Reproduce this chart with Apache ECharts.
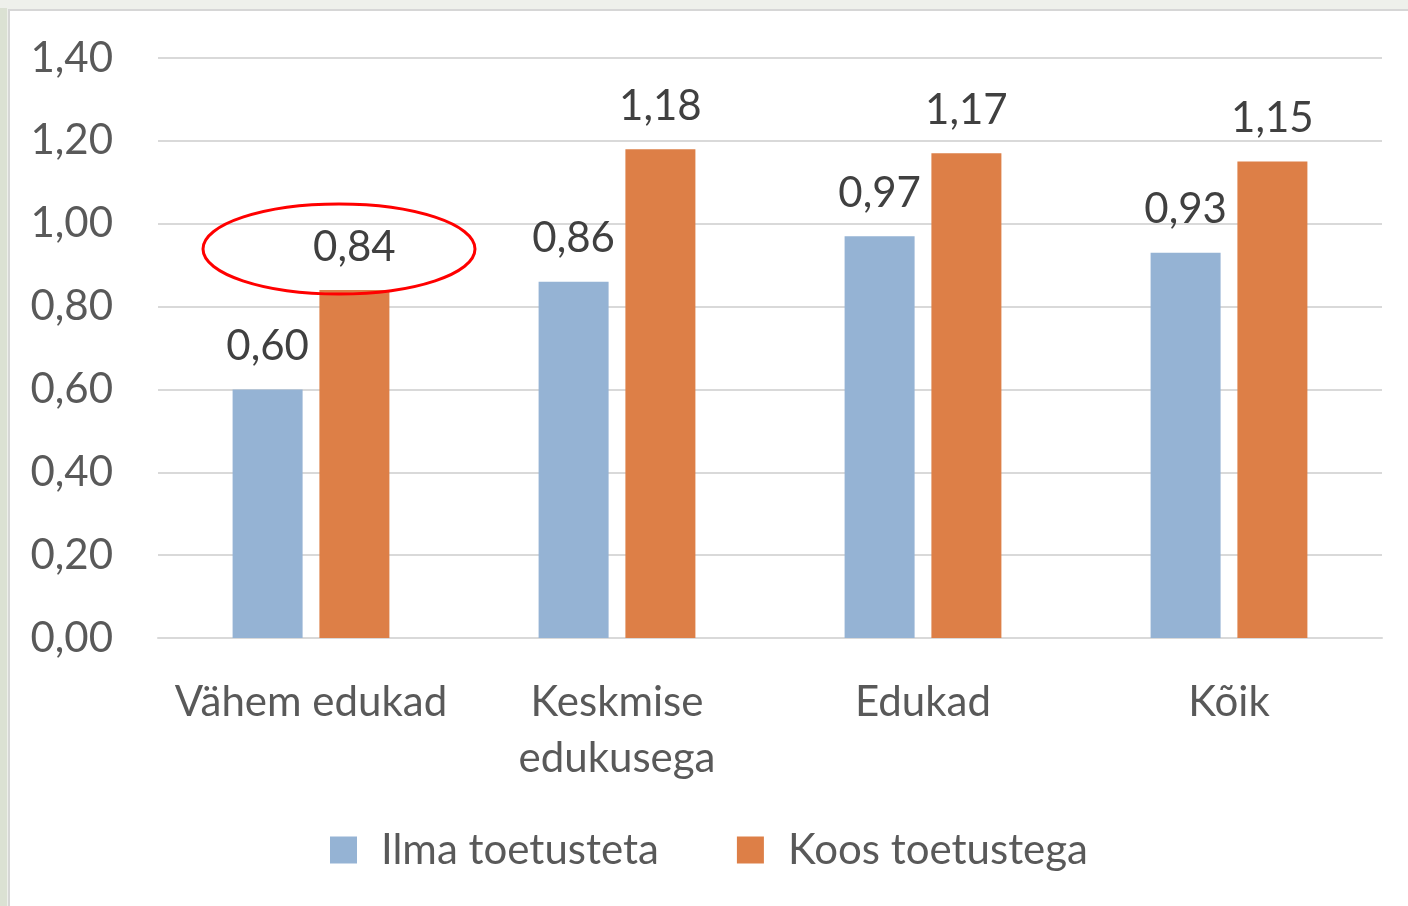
<!DOCTYPE html>
<html>
<head>
<meta charset="utf-8">
<script src="https://cdn.jsdelivr.net/npm/echarts@6/dist/echarts.min.js"></script>
<style>
  html, body { margin: 0; padding: 0; }
  body { width: 1408px; height: 906px; background: #eef0eb; position: relative; overflow: hidden; }
  .strip { position: absolute; left: 0; top: 8px; width: 7px; height: 898px; background: #dbe1d3; }
  .panel { position: absolute; left: 8px; top: 9px; width: 1400px; height: 897px; background: #fff;
           border-left: 2px solid #d6d6d6; border-top: 2px solid #d6d6d6; box-sizing: border-box; }
  #chart { position: absolute; left: 10px; top: 11px; width: 1398px; height: 895px; }
</style>
</head>
<body>
<div class="strip"></div>
<div class="panel"></div>
<div id="chart"></div>
<script>
// andmed
const categories = ['Vähem edukad', 'Keskmise\nedukusega', 'Edukad', 'Kõik']
const seriesNames = ['Ilma toetusteta', 'Koos toetustega']
const ilmaToetusteta = [0.60, 0.86, 0.97, 0.93]
const koosToetustega = [0.84, 1.18, 1.17, 1.15]
const colors = ['#95b3d4', '#dd7f47']

const fontFamily = 'Lato, "Open Sans", sans-serif'
const fs = 42
const fmt = v => Number(v).toFixed(2).replace('.', ',')

const chart = echarts.init(document.getElementById('chart'))
chart.setOption({
  animation: false,
  textStyle: { fontFamily: fontFamily },
  grid: { left: 148, right: 26, top: 47, bottom: 268 },
  legend: {
    bottom: 30,
    left: 'center',
    itemWidth: 27,
    itemHeight: 27,
    itemGap: 78,
    icon: 'rect',
    textStyle: { fontSize: fs, color: '#595959', fontFamily: fontFamily, padding: [0, 0, 0, 19] },
    data: seriesNames
  },
  xAxis: {
    type: 'category',
    data: categories,
    axisLine: { lineStyle: { color: '#d9d9d9', width: 2 } },
    axisTick: { show: false },
    axisLabel: { fontSize: fs, color: '#595959', lineHeight: 56, margin: 36, interval: 0 }
  },
  yAxis: {
    type: 'value',
    min: 0,
    max: 1.4,
    interval: 0.2,
    axisLine: { show: false },
    axisTick: { show: false },
    axisLabel: { fontSize: fs, color: '#595959', margin: 45, formatter: fmt },
    splitLine: { lineStyle: { color: '#d9d9d9', width: 2 } }
  },
  series: [
    {
      name: seriesNames[0],
      type: 'bar',
      data: ilmaToetusteta,
      barWidth: 70,
      barGap: '24%',
      itemStyle: { color: colors[0] },
      label: { show: true, position: 'top', distance: 22, fontSize: fs, color: '#404040', formatter: p => fmt(p.value) }
    },
    {
      name: seriesNames[1],
      type: 'bar',
      data: koosToetustega,
      barWidth: 70,
      itemStyle: { color: colors[1] },
      label: { show: true, position: 'top', distance: 22, fontSize: fs, color: '#404040', formatter: p => fmt(p.value) }
    }
  ]
})

// punane ellips ümber 0,84 väärtuse
const pt = chart.convertToPixel({ xAxisIndex: 0, yAxisIndex: 0 }, [0, koosToetustega[0]])
chart.setOption({
  graphic: [{
    type: 'ellipse',
    shape: { cx: pt[0] + 28, cy: pt[1] - 41, rx: 136, ry: 45 },
    style: { fill: 'none', stroke: '#ff0000', lineWidth: 3 },
    z: 100
  }]
})
</script>
</body>
</html>
